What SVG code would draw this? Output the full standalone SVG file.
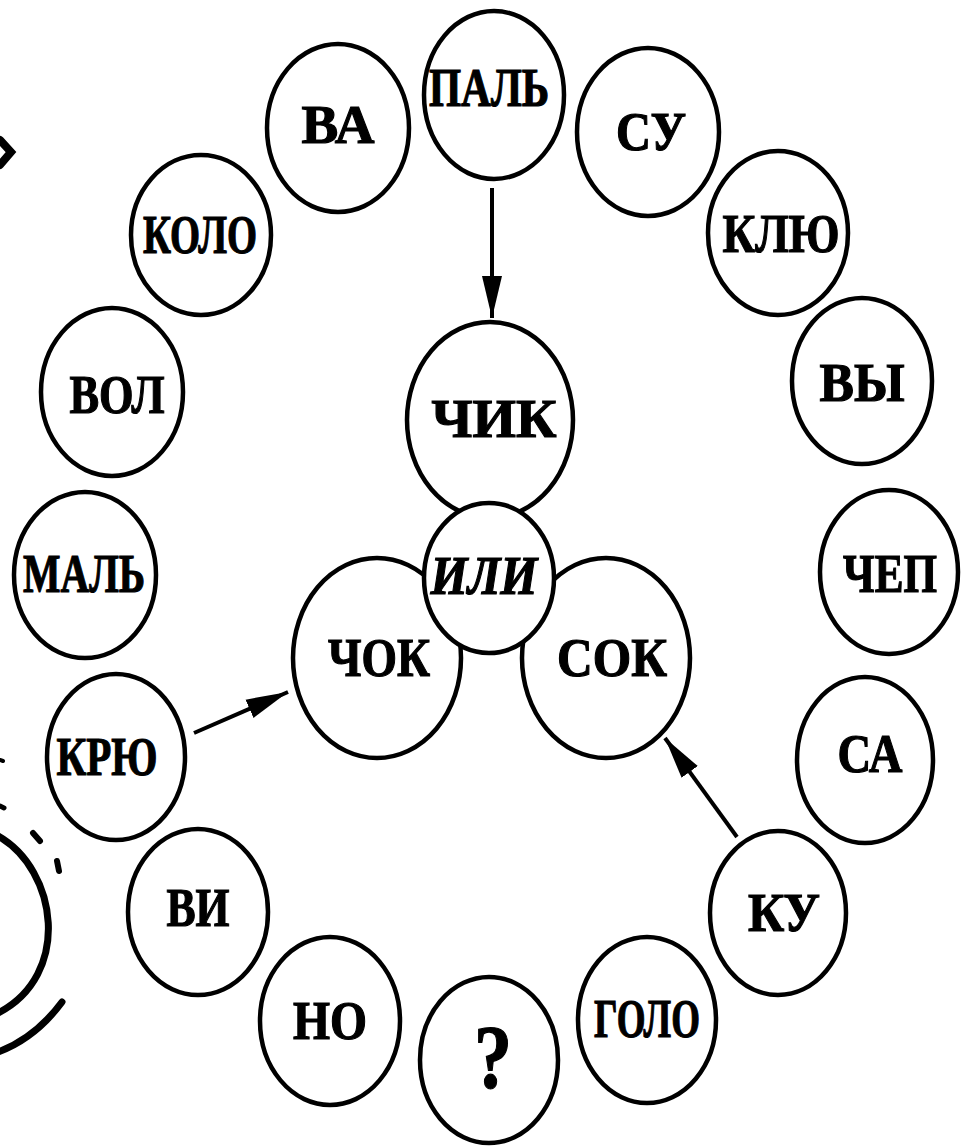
<svg xmlns="http://www.w3.org/2000/svg" width="962" height="1146" viewBox="0 0 962 1146">
<style>
.n{fill:#fff;stroke:#000;stroke-width:4.5}
.t{font-family:"Liberation Serif","Times New Roman",serif;font-weight:bold;font-size:55px;text-anchor:middle;fill:#000;stroke:#000;stroke-width:1.2}
.i{font-style:italic}
.c{stroke:#000;stroke-width:4;fill:none}
.d{stroke:#000;fill:none;stroke-linecap:round}
</style>
<defs>
<marker id="ah" markerUnits="userSpaceOnUse" markerWidth="44" markerHeight="22" refX="42" refY="11" orient="auto">
<path d="M0,1 L42,11 L0,21 Z" fill="#000"/>
</marker>
</defs>
<rect width="962" height="1146" fill="#fff"/>
<g id="decor">
<polyline class="d" points="0,140 11,152 0,165" stroke-width="8"/>
<path class="d" d="M-2,836 C58,870 72,975 -2,1013" stroke-width="7"/>
<path class="d" d="M62,1002 C45,1025 25,1042 -2,1052" stroke-width="7"/>
<line class="d" x1="0" y1="760" x2="3" y2="761" stroke-width="4"/>
<line class="d" x1="0" y1="806" x2="4" y2="808" stroke-width="5"/>
<line class="d" x1="33" y1="833" x2="40" y2="841" stroke-width="6"/>
<line class="d" x1="57" y1="861" x2="59" y2="871" stroke-width="6"/>
</g>
<g id="connectors">
<line class="c" x1="492" y1="188" x2="492" y2="318" marker-end="url(#ah)"/>
<line class="c" x1="194" y1="733" x2="288" y2="692" marker-end="url(#ah)"/>
<line class="c" x1="737" y1="837" x2="665" y2="738" marker-end="url(#ah)"/>
</g>
<g id="n-pal"><ellipse class="n" cx="494" cy="95" rx="70" ry="84"/><text class="t" x="489" y="106" textLength="120" lengthAdjust="spacingAndGlyphs">ПАЛЬ</text></g>
<g id="n-ba"><ellipse class="n" cx="338" cy="128" rx="71" ry="84"/><text class="t" x="338" y="143" textLength="73" lengthAdjust="spacingAndGlyphs">ВА</text></g>
<g id="n-su"><ellipse class="n" cx="648" cy="132" rx="71" ry="84"/><text class="t" x="651" y="150" textLength="70" lengthAdjust="spacingAndGlyphs">СУ</text></g>
<g id="n-kolo"><ellipse class="n" cx="201" cy="235" rx="70" ry="80"/><text class="t" x="200" y="253" textLength="114" lengthAdjust="spacingAndGlyphs">КОЛО</text></g>
<g id="n-klyu"><ellipse class="n" cx="778" cy="233" rx="70" ry="82"/><text class="t" x="781" y="252" textLength="117" lengthAdjust="spacingAndGlyphs">КЛЮ</text></g>
<g id="n-vol"><ellipse class="n" cx="112" cy="392" rx="71" ry="84"/><text class="t" x="117" y="413" textLength="95" lengthAdjust="spacingAndGlyphs">ВОЛ</text></g>
<g id="n-vy"><ellipse class="n" cx="862" cy="381" rx="70" ry="83"/><text class="t" x="862" y="401" textLength="85" lengthAdjust="spacingAndGlyphs">ВЫ</text></g>
<g id="n-mal"><ellipse class="n" cx="85" cy="575" rx="71" ry="83"/><text class="t" x="84" y="592" textLength="122" lengthAdjust="spacingAndGlyphs">МАЛЬ</text></g>
<g id="n-chep"><ellipse class="n" cx="889" cy="572" rx="69" ry="82"/><text class="t" x="890" y="592" textLength="94" lengthAdjust="spacingAndGlyphs">ЧЕП</text></g>
<g id="n-kryu"><ellipse class="n" cx="116" cy="757" rx="69" ry="83"/><text class="t" x="107" y="775" textLength="101" lengthAdjust="spacingAndGlyphs">КРЮ</text></g>
<g id="n-sa"><ellipse class="n" cx="865" cy="760" rx="68" ry="83"/><text class="t" x="870" y="772" textLength="65" lengthAdjust="spacingAndGlyphs">СА</text></g>
<g id="n-vi"><ellipse class="n" cx="198" cy="912" rx="70" ry="83"/><text class="t" x="198" y="926" textLength="63" lengthAdjust="spacingAndGlyphs">ВИ</text></g>
<g id="n-ku"><ellipse class="n" cx="778" cy="913" rx="68" ry="82"/><text class="t" x="784" y="931" textLength="72" lengthAdjust="spacingAndGlyphs">КУ</text></g>
<g id="n-no"><ellipse class="n" cx="330" cy="1021" rx="70" ry="84"/><text class="t" x="330" y="1039" textLength="74" lengthAdjust="spacingAndGlyphs">НО</text></g>
<g id="n-q"><ellipse class="n" cx="489" cy="1060" rx="69" ry="83"/><text class="t" x="493" y="1088" style="font-size:90px" textLength="38" lengthAdjust="spacingAndGlyphs">?</text></g>
<g id="n-golo"><ellipse class="n" cx="647" cy="1020" rx="69" ry="83"/><text class="t" x="647" y="1037" textLength="106" lengthAdjust="spacingAndGlyphs">ГОЛО</text></g>
<g id="n-chik"><ellipse class="n" cx="490" cy="420" rx="83" ry="98"/><text class="t" x="494" y="437" textLength="125" lengthAdjust="spacingAndGlyphs">ЧИК</text></g>
<g id="n-chok"><ellipse class="n" cx="377" cy="658" rx="84" ry="100"/><text class="t" x="379" y="676" textLength="102" lengthAdjust="spacingAndGlyphs">ЧОК</text></g>
<g id="n-sok"><ellipse class="n" cx="606" cy="658" rx="84" ry="100"/><text class="t" x="612" y="676" textLength="110" lengthAdjust="spacingAndGlyphs">СОК</text></g>
<g id="n-ili"><ellipse class="n" cx="489" cy="578" rx="65" ry="75"/><text class="t i" x="484" y="594" textLength="107" lengthAdjust="spacingAndGlyphs">ИЛИ</text></g>
</svg>
